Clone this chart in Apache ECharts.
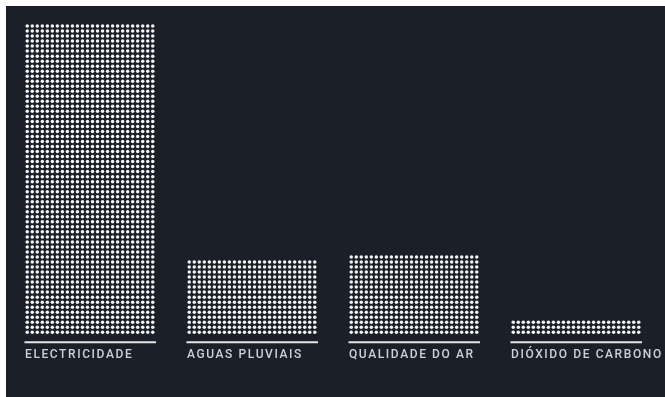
<!DOCTYPE html>
<html>
<head>
<meta charset="utf-8">
<script src="https://cdn.jsdelivr.net/npm/echarts@6/dist/echarts.min.js"></script>
<style>
  html, body { margin: 0; padding: 0; background: #ffffff; }
  #chart { position: absolute; left: 6px; top: 6px; width: 659px; height: 391px; }
</style>
</head>
<body>
<div id="chart"></div>
<script>
// Category labels and dot counts (one dot per unit)
const categories = ['ELECTRICIDADE', 'AGUAS PLUVIAIS', 'QUALIDADE DO AR', 'DIÓXIDO DE CARBONO'];
const dotCounts = [1612, 390, 416, 78];
const dotsPerRow = 26;

// Tracked uppercase labels: give every 2d canvas context a little letter spacing
const origGetContext = HTMLCanvasElement.prototype.getContext;
HTMLCanvasElement.prototype.getContext = function (type, opts) {
  const ctx = origGetContext.call(this, type, opts);
  if (ctx && type === '2d' && 'letterSpacing' in ctx) ctx.letterSpacing = '1.6px';
  return ctx;
};

const chart = echarts.init(document.getElementById('chart'), null, { renderer: 'canvas' });

function renderDots(params, api) {
  const idx = api.value(0);
  const count = api.value(1);
  const base = api.coord([idx, 0]);
  const cx = base[0];
  const pitch = api.size([0, dotsPerRow])[1];
  const rows = Math.ceil(count / dotsPerRow);
  const children = [];
  for (let r = 0; r < rows; r++) {
    const y = api.coord([idx, (r + 0.5) * dotsPerRow])[1];
    const n = Math.min(dotsPerRow, count - r * dotsPerRow);
    for (let c = 0; c < n; c++) {
      const x = cx + (c - (dotsPerRow - 1) / 2) * pitch;
      children.push({
        type: 'circle',
        shape: { cx: x, cy: y, r: 1.75 },
        style: { fill: '#f4f4f4' },
        silent: true
      });
    }
  }
  // baseline rule under the dots
  children.push({
    type: 'line',
    shape: { x1: cx - 65.5, y1: base[1] + 7.5, x2: cx + 66, y2: base[1] + 7.5 },
    style: { stroke: '#e6e6e6', lineWidth: 2 },
    silent: true
  });
  // category name, left aligned under the rule
  children.push({
    type: 'text',
    x: cx - 65,
    y: base[1] + 20.5,
    style: {
      text: categories[idx],
      fill: '#ced1d5',
      font: '500 12px Roboto, "Liberation Sans", sans-serif',
      textAlign: 'left',
      textVerticalAlign: 'middle'
    },
    silent: true
  });
  return { type: 'group', children: children };
}

chart.setOption({
  backgroundColor: '#1b1f28',
  animation: false,
  grid: { left: 3, width: 648, top: 17.5, bottom: 62.2 },
  xAxis: {
    type: 'category',
    data: categories,
    show: false,
    boundaryGap: true
  },
  yAxis: {
    type: 'value',
    min: 0,
    max: 1612,
    show: false
  },
  series: [{
    type: 'custom',
    renderItem: renderDots,
    clip: false,
    data: dotCounts.map((v, i) => [i, v])
  }]
});
</script>
</body>
</html>
